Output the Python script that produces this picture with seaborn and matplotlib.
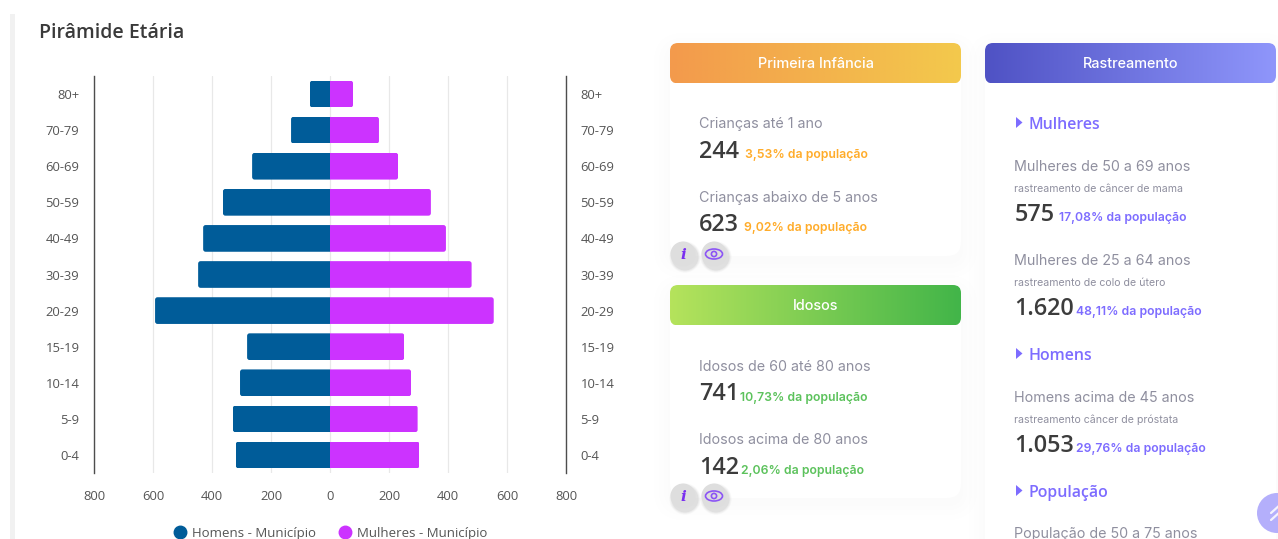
#-------------------------------------------------------------------------------
# plot.py
# Age pyramid panel with the indicator cards next to it
#-------------------------------------------------------------------------------
import numpy as np
import pandas as pd
import seaborn as sns
import matplotlib
matplotlib.use("Agg")
import matplotlib.pyplot as plt
from matplotlib.colors import LinearSegmentedColormap
from matplotlib.lines import Line2D
from matplotlib.patches import Circle, Ellipse, FancyBboxPatch, Polygon, Rectangle

# --------------------------------------
# Data
# --------------------------------------
age_groups = ["80+", "70-79", "60-69", "50-59", "40-49", "30-39", "20-29", "15-19", "10-14", "5-9", "0-4"]
men = [68, 132, 264, 363, 430, 447, 593, 281, 305, 329, 319]
women = [78, 166, 231, 342, 393, 480, 555, 252, 275, 297, 303]
x_ticks = [-800, -600, -400, -200, 0, 200, 400, 600, 800]
men_label = "Homens - Município"
women_label = "Mulheres - Município"

card_titles = ["Primeira Infância", "Idosos", "Rastreamento"]
childhood_labels = ["Crianças até 1 ano", "Crianças abaixo de 5 anos"]
childhood_values = ["244", "623"]
childhood_pcts = ["3,53% da população", "9,02% da população"]
elderly_labels = ["Idosos de 60 até 80 anos", "Idosos acima de 80 anos"]
elderly_values = ["741", "142"]
elderly_pcts = ["10,73% da população", "2,06% da população"]
screening_heads = ["Mulheres", "Homens", "População"]
screening_labels = ["Mulheres de 50 a 69 anos", "Mulheres de 25 a 64 anos", "Homens acima de 45 anos"]
screening_notes = ["rastreamento de câncer de mama", "rastreamento de colo de útero", "rastreamento câncer de próstata"]
screening_values = ["575", "1.620", "1.053"]
screening_pcts = ["17,08% da população", "48,11% da população", "29,76% da população"]
last_label = "População de 50 a 75 anos"

# --------------------------------------
# Colors and fonts
# --------------------------------------
BLUE = "#005c99"
PURPLE = "#cc33ff"
GREY_TEXT = "#8f8f9f"
DARK_TEXT = "#3c3c3c"
VIOLET = "#7d6cff"
CHART_FONT = "Open Sans"
CARD_FONT = "Inter"

sns.set_theme(style="white")
plt.rcParams["font.family"] = [CHART_FONT, "DejaVu Sans"]

W, H = 1278, 539
fig = plt.figure(figsize=(W / 100, H / 100), dpi=100, facecolor="white")

# background axes in pixel coordinates, holds the page and the cards
bg = fig.add_axes([0, 0, 1, 1], zorder=0)
bg.set_xlim(0, W)
bg.set_ylim(H, 0)
bg.axis("off")


def rounded(x0, y0, x1, y1, r, **kw):
    return FancyBboxPatch((x0 + r, y0 + r), x1 - x0 - 2 * r, y1 - y0 - 2 * r,
                          boxstyle=f"round,pad={r},rounding_size={r}", linewidth=0, **kw)


def card(x0, y0, x1, y1, title, c0, c1):
    # soft shadow, few layers because very low alpha gets rounded to a full grey level
    for grow in [16, 11, 6, 2]:
        bg.add_patch(rounded(x0 - grow, y0 - grow + 6, x1 + grow, y1 + grow + 6, 14 + grow,
                             facecolor="#8088b0", alpha=0.009))
    bg.add_patch(rounded(x0, y0 + 20, x1, y1, 14, facecolor="white"))
    # gradient header
    cmap = LinearSegmentedColormap.from_list("head", [c0, c1])
    im = bg.imshow(np.linspace(0, 1, 256)[None, :], cmap=cmap, aspect="auto",
                   extent=(x0, x1, y0 + 40.5, y0), zorder=2)
    clip = rounded(x0, y0, x1, y0 + 40.5, 8, facecolor="none", transform=bg.transData)
    im.set_clip_path(clip)
    bg.text((x0 + x1) / 2, y0 + 24.7, title, color="white", fontsize=10.4, fontweight="medium",
            family=CARD_FONT, ha="center", va="baseline", zorder=3)


def icons(y):
    for x in [683, 714]:
        for grow, a in [(3.5, 0.05), (2.5, 0.07), (1.5, 0.10)]:
            bg.add_patch(Circle((x + 2, y + 3), 12 + grow, facecolor="#777777", alpha=a, linewidth=0, zorder=4))
        bg.add_patch(Circle((x, y), 12.5, facecolor="#dedede", linewidth=0, zorder=5))
    bg.text(683, y + 5, "i", color="#7a2ff0", fontsize=11, family="DejaVu Serif", fontstyle="italic",
            fontweight="bold", ha="center", va="baseline", zorder=6)
    bg.add_patch(Ellipse((714, y), 17, 10, facecolor="none", edgecolor="#8c55f5", linewidth=1.2, zorder=6))
    bg.add_patch(Circle((714, y), 2.6, facecolor="none", edgecolor="#8c55f5", linewidth=1.2, zorder=6))


def write_stat(x, y_value, value, pct_x, pct, color):
    bg.text(x, y_value, value, color=DARK_TEXT, fontsize=16.8, fontweight="semibold", family=CHART_FONT,
            va="baseline", zorder=3)
    bg.text(pct_x, y_value, pct, color=color, fontsize=8.8, fontweight="semibold", family=CARD_FONT,
            va="baseline", zorder=3)


# grey strip at the left of the panel
bg.add_patch(Rectangle((10, 13.5), 5, H, facecolor="#f1f1f1", linewidth=0))

bg.text(39, 38.5, "Pirâmide Etária", color="#3a3a3a", fontsize=14, fontweight="semibold", family=CHART_FONT,
        va="baseline")

# --------------------------------------
# Cards
# --------------------------------------
card(670, 43, 961, 256, card_titles[0], "#f39a4c", "#f3c94c")
card(670, 285, 961, 498, card_titles[1], "#b5e35c", "#42b549")
card(985, 43, 1276, 600, card_titles[2], "#4f52c4", "#8f96fb")

for i, y in enumerate([128, 202]):
    bg.text(699, y, childhood_labels[i], color=GREY_TEXT, fontsize=10.3, family=CARD_FONT, va="baseline", zorder=3)
for value, pct, y, px in zip(childhood_values, childhood_pcts, [158, 231], [745, 744]):
    write_stat(699, y, value, px, pct, "#ffac2a")
icons(254)

for i, y in enumerate([371, 444]):
    bg.text(699, y, elderly_labels[i], color=GREY_TEXT, fontsize=10.3, family=CARD_FONT, va="baseline", zorder=3)
for value, pct, y, px in zip(elderly_values, elderly_pcts, [400.5, 474], [740.5, 741]):
    write_stat(699, y, value, px, pct, "#5cc25c")
icons(496)

for head, y in zip(screening_heads, [129, 360, 497]):
    bg.add_patch(Polygon([(1016, y - 12), (1016, y - 1), (1022.5, y - 6.5)], facecolor=VIOLET, linewidth=0, zorder=3))
    bg.text(1028, y, head, color=VIOLET, fontsize=11.4, fontweight="semibold", family=CHART_FONT, va="baseline", zorder=3)

for i, y in enumerate([171, 265, 402]):
    bg.text(1014.5, y, screening_labels[i], color=GREY_TEXT, fontsize=10.3, family=CARD_FONT, va="baseline", zorder=3)
    bg.text(1014.5, y + 21, screening_notes[i], color=GREY_TEXT, fontsize=7.6, family=CARD_FONT, va="baseline", zorder=3)
for value, pct, y, px in zip(screening_values, screening_pcts, [221, 315, 452], [1059, 1076, 1076]):
    write_stat(1014.5, y, value, px, pct, VIOLET)
bg.text(1014.5, 538, last_label, color=GREY_TEXT, fontsize=10.3, family=CARD_FONT, va="baseline", zorder=3)

# scroll to top button
bg.add_patch(Circle((1277, 513), 20, facecolor="#b4affb", linewidth=0, zorder=6))
bg.plot([1271, 1281], [513, 504], color="white", linewidth=1.6, alpha=0.85, zorder=7)
bg.plot([1271, 1281], [520, 511], color="white", linewidth=1.6, alpha=0.85, zorder=7)

bg.set_xlim(0, W)
bg.set_ylim(H, 0)

# --------------------------------------
# Pyramid
# --------------------------------------
df = pd.DataFrame({
    "faixa": age_groups * 2,
    "populacao": [-v for v in men] + women,
    "sexo": [men_label] * len(men) + [women_label] * len(women),
})

ax = fig.add_axes([94 / W, 1 - 473 / H, 472 / W, 397 / H], zorder=1)
ax.patch.set_alpha(0)
sns.barplot(data=df, x="populacao", y="faixa", hue="sexo", order=age_groups,
            hue_order=[men_label, women_label], palette=[BLUE, PURPLE], dodge=False,
            width=0.74, saturation=1, linewidth=0, legend=False, ax=ax, zorder=3)

ax.set_xlim(-800, 800)
ax.set_ylim(len(age_groups) - 0.5, -0.5)
ax.set_xticks(x_ticks)
ax.set_xticklabels([str(abs(t)) for t in x_ticks])
ax.set_xlabel("")
ax.set_ylabel("")
ax.grid(axis="x", color="#e8e8e8", linewidth=0.9)
ax.set_axisbelow(True)
ax.tick_params(axis="x", length=0, pad=12, labelsize=9.4, labelcolor="#555555")
ax.tick_params(axis="y", length=0, pad=10.5, labelsize=9.4, labelcolor="#555555",
               left=False, right=False, labelleft=True, labelright=True)
for side in ["top", "bottom"]:
    ax.spines[side].set_visible(False)
for side in ["left", "right"]:
    ax.spines[side].set_visible(True)
    ax.spines[side].set_color("#4d4d4d")
    ax.spines[side].set_linewidth(1)

# round only the outer corners of the bars
x_per_px = 1600 / 472
y_per_px = len(age_groups) / 397
for bar in ax.patches:
    x, y, w, h = bar.get_x(), bar.get_y(), bar.get_width(), bar.get_height()
    left, right = min(x, x + w), max(x, x + w)
    if left < 0:
        right += 20
    else:
        left -= 20
    r = 2.5 * x_per_px
    clip = FancyBboxPatch((left + r, y + r * y_per_px / x_per_px), right - left - 2 * r,
                          h - 2 * r * y_per_px / x_per_px,
                          boxstyle=f"round,pad={r},rounding_size={r}",
                          mutation_aspect=y_per_px / x_per_px, transform=ax.transData)
    bar.set_clip_path(clip)

handles = [
    Line2D([], [], linestyle="", marker="o", markersize=9, color=BLUE, label=men_label),
    Line2D([], [], linestyle="", marker="o", markersize=9, color=PURPLE, label=women_label),
]
fig.legend(handles=handles, loc="center", bbox_to_anchor=(327 / W, 1 - 533 / H), ncols=2, frameon=False,
           fontsize=9.5, labelcolor="#555555", handletextpad=-0.1, columnspacing=1.2)

fig.savefig("out.png", dpi=100)
